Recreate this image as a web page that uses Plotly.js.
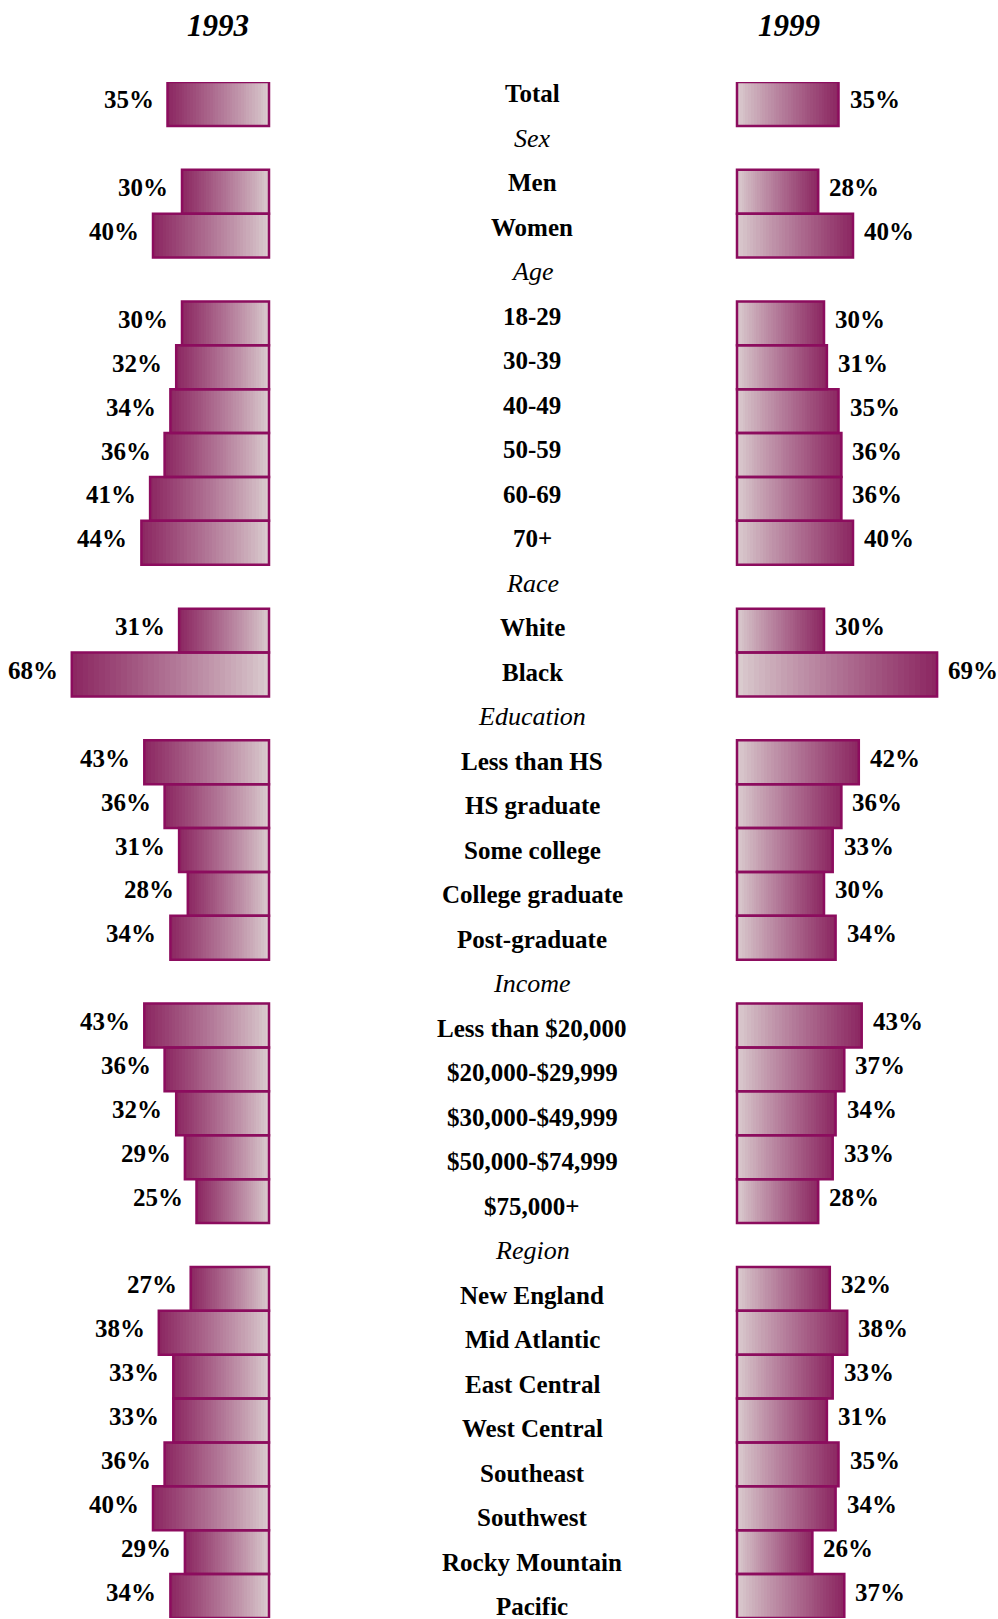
<!DOCTYPE html>
<html>
<head>
<meta charset="utf-8">
<script src="https://cdn.plot.ly/plotly-3.0.1.min.js"></script>
<style>html,body{margin:0;padding:0;background:#fff;}#chart{width:998px;height:1619px;}</style>
</head>
<body>
<div id="chart"></div>
<script>
// ---- DATA ----
const rowLabels = ["Total","Sex","Men","Women","Age","18-29","30-39","40-49","50-59","60-69","70+",
  "Race","White","Black","Education","Less than HS","HS graduate","Some college","College graduate","Post-graduate",
  "Income","Less than $20,000","$20,000-$29,999","$30,000-$49,999","$50,000-$74,999","$75,000+",
  "Region","New England","Mid Atlantic","East Central","West Central","Southeast","Southwest","Rocky Mountain","Pacific"];
const groupHeaders = ["Sex","Age","Race","Education","Income","Region"];
const values1993 = [35,null,30,40,null,30,32,34,36,41,44,null,31,68,null,43,36,31,28,34,null,43,36,32,29,25,null,27,38,33,33,36,40,29,34];
const values1999 = [35,null,28,40,null,30,31,35,36,36,40,null,30,69,null,42,36,33,30,34,null,43,37,34,33,28,null,32,38,33,31,35,34,26,37];
const yearTitles = ["1993","1999"];

// ---- STYLE ----
const FONT = "Liberation Serif, Times New Roman, serif";
const BORDER = "#8C0C5E";
const LIGHT = [218,203,206];
const DARK = [140,40,98];
const K = 36;

function mix(t){
  const c = LIGHT.map((l,j)=>Math.round(l + (DARK[j]-l)*t));
  return `rgb(${c[0]},${c[1]},${c[2]})`;
}

const rowIdx = rowLabels.map((_,i)=>i);
const traces = [];

function addSide(vals, xa){
  for(let i=0;i<K;i++){
    traces.push({
      type:'bar', orientation:'h', xaxis:xa, yaxis:'y',
      y: rowIdx,
      x: vals.map(v=> v==null ? null : v/K),
      base: vals.map(v=> v==null ? null : v*i/K),
      marker:{color: mix(Math.pow(i/(K-1),0.9)), line:{width:0}},
      width: 1, hoverinfo:'skip', showlegend:false
    });
  }
  traces.push({
    type:'bar', orientation:'h', xaxis:xa, yaxis:'y',
    y: rowIdx, x: vals, width: 1,
    marker:{color:'rgba(0,0,0,0)', line:{color:BORDER, width:2.5}},
    hoverinfo:'skip', showlegend:false
  });
}
addSide(values1993,'x');
addSide(values1999,'x2');

const annotations = [];
// percentage labels
values1993.forEach((v,i)=>{
  if(v==null) return;
  annotations.push({xref:'x', yref:'y', x:v, y:i, text:'<b>'+v+'%</b>', showarrow:false,
    xanchor:'right', yanchor:'middle', xshift:-12, yshift:4,
    font:{family:FONT, size:25, color:'#000'}});
});
values1999.forEach((v,i)=>{
  if(v==null) return;
  annotations.push({xref:'x2', yref:'y', x:v, y:i, text:'<b>'+v+'%</b>', showarrow:false,
    xanchor:'left', yanchor:'middle', xshift:9, yshift:4,
    font:{family:FONT, size:25, color:'#000'}});
});
// middle labels
rowLabels.forEach((lab,i)=>{
  const isHead = groupHeaders.includes(lab);
  annotations.push({xref:'paper', yref:'y2', x:532/998, y:i,
    text: isHead ? '<i>'+lab+'</i>' : '<b>'+lab+'</b>', showarrow:false,
    xanchor:'center', yanchor:'middle',
    font:{family:FONT, size:isHead?26:25, color:'#000'}});
});
// year titles
[[yearTitles[0],218/998],[yearTitles[1],789/998]].forEach(([t,x])=>{
  annotations.push({xref:'paper', yref:'paper', x:x, y:1.037, text:'<b><i>'+t+'</i></b>',
    showarrow:false, xanchor:'center', yanchor:'middle',
    font:{family:FONT, size:31, color:'#000'}});
});

const layout = {
  width:998, height:1619,
  margin:{l:0, r:0, t:82, b:1, pad:0},
  paper_bgcolor:'#fff', plot_bgcolor:'rgba(0,0,0,0)',
  barmode:'overlay', bargap:0,
  showlegend:false,
  xaxis:{domain:[0, 274.5/998], range:[269/2.9, -5.5/2.9], visible:false, fixedrange:true},
  xaxis2:{domain:[730/998, 1], range:[-7/2.9, 261/2.9], visible:false, fixedrange:true},
  yaxis:{range:[34.5,-0.5], visible:false, fixedrange:true},
  yaxis2:{overlaying:'y', range:[34.25,-0.267], visible:false, fixedrange:true},
  annotations: annotations
};

Plotly.newPlot('chart', traces, layout, {displayModeBar:false, staticPlot:true});
</script>
</body>
</html>
